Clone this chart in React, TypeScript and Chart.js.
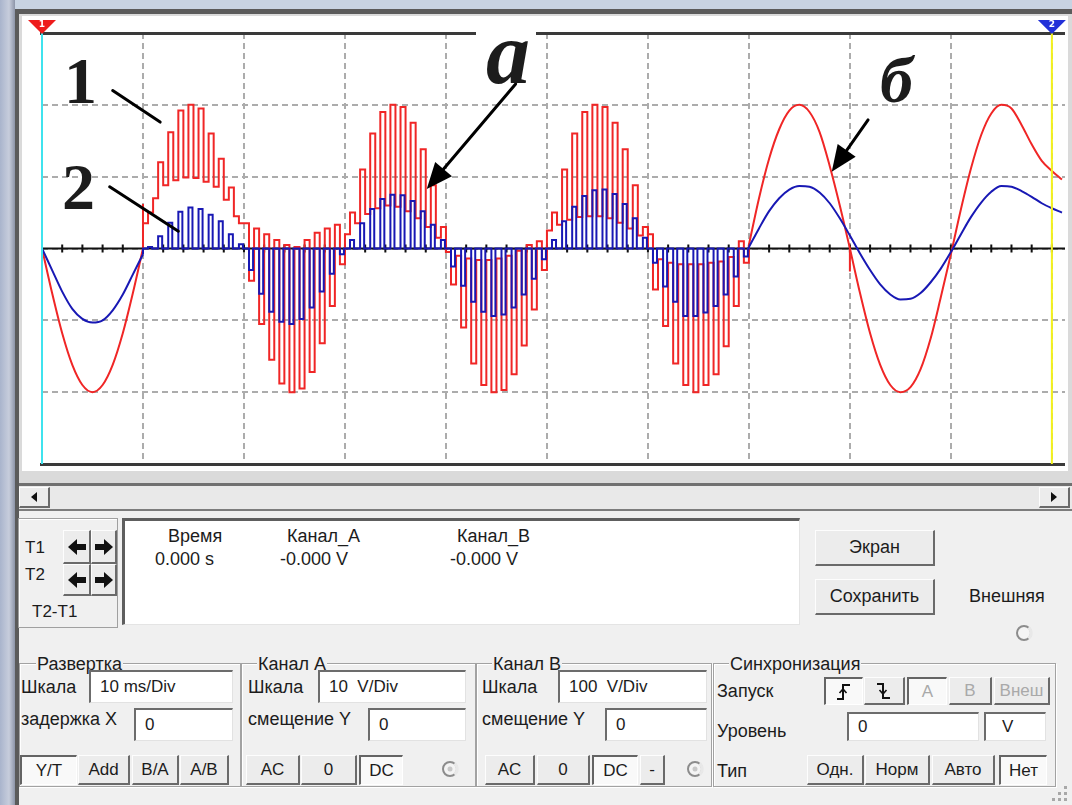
import React, { useEffect, useRef } from "react";
import { Chart, registerables } from "chart.js";

Chart.register(...registerables);

// ---------- scope scale (time in ms, 10 ms/div; level in divisions) ----------
const X_MIN = 0;
const X_MAX = 101.3;
const Y_MIN = -3;
const Y_MAX = 3;
const X_DIV = 10;
const Y_DIV = 1;
const AXIS_TICK_MS = 2;
const CURSOR_T1 = 0;
const CURSOR_T2 = 100;

// ---------- clean section at the start (0–10 ms) ----------
const startTimes = [0, 1, 2, 3, 4, 5, 6, 7, 8, 9, 10];
const startRed = [0, -0.62, -1.18, -1.62, -1.9, -2.0, -1.9, -1.62, -1.18, -0.62, 0];
const startBlue = [0, -0.3, -0.6, -0.84, -0.98, -1.03, -1.0, -0.86, -0.64, -0.36, -0.08];

// ---------- chopped section (10–70 ms), one value per 1 ms slot ----------
const segStarts = [10, 20, 30, 40, 50, 60];
const slotsPerSeg = 10;
const slotMs = 1;
const redPulseOn = 0.5;
const bluePulseOn = 0.5;
const bluePulseOff = 0.9;
const blueOffLevel = 0;

const redHi = [
  0.5, 1.2, 1.62, 1.92, 2.0, 1.95, 1.6, 1.25, 0.85, 0.35,
  -0.45, -1.05, -1.55, -1.88, -2.0, -1.95, -1.72, -1.32, -0.8, -0.22,
  0.5, 1.1, 1.6, 1.9, 2.0, 1.97, 1.75, 1.38, 0.88, 0.3,
  -0.5, -1.1, -1.6, -1.9, -2.0, -1.97, -1.75, -1.35, -0.85, -0.3,
  0.5, 1.1, 1.6, 1.9, 2.0, 1.97, 1.75, 1.38, 0.88, 0.3,
  -0.57, -1.08, -1.6, -1.9, -2.0, -1.9, -1.75, -1.36, -0.8, -0.2,
];
const redLo = [
  0.35, 0.7, 0.88, 0.95, 0.99, 0.98, 0.93, 0.86, 0.68, 0.45,
  0.35, 0.28, 0.2, 0.12, 0.05, 0.02, 0.12, 0.22, 0.28, 0.33,
  0.2, 0.35, 0.48, 0.56, 0.6, 0.58, 0.52, 0.42, 0.3, 0.15,
  -0.05, -0.1, -0.14, -0.16, -0.16, -0.14, -0.1, -0.03, 0.05, 0.1,
  0.25, 0.33, 0.4, 0.44, 0.45, 0.45, 0.42, 0.36, 0.28, 0.18,
  0.2, -0.15, -0.2, -0.22, -0.22, -0.22, -0.2, -0.18, -0.12, 0.1,
];
const blueHi = [
  0.02, 0.17, 0.36, 0.51, 0.57, 0.55, 0.47, 0.38, 0.2, 0.06,
  -0.3, -0.63, -0.88, -1.02, -1.05, -0.98, -0.82, -0.6, -0.35, -0.08,
  0.12, 0.35, 0.55, 0.69, 0.75, 0.74, 0.66, 0.52, 0.33, 0.12,
  -0.25, -0.52, -0.74, -0.88, -0.94, -0.92, -0.82, -0.64, -0.42, -0.15,
  0.12, 0.38, 0.58, 0.73, 0.81, 0.82, 0.76, 0.62, 0.42, 0.15,
  -0.2, -0.53, -0.74, -0.94, -0.94, -0.89, -0.8, -0.64, -0.39, -0.11,
];

// ---------- switching glitches on the red trace ----------
const redGlitchT = [10, 60, 80];
const redGlitchFrom = [0, 0, 0];
const redGlitchTo = [0.62, 0.3, -0.32];

// ---------- clean section at the end (70–101 ms) ----------
const endTimes = [70, 71, 72, 73, 74, 75, 76, 77, 78, 79, 80, 81, 82, 83, 84, 85, 86, 87, 88, 89, 90, 91, 92, 93, 94, 95, 96, 97, 98, 99, 100, 101];
const endRed = [0.05, 0.7, 1.25, 1.66, 1.92, 2.0, 1.9, 1.62, 1.15, 0.6, 0.0, -0.62, -1.18, -1.62, -1.9, -2.0, -1.93, -1.68, -1.25, -0.68, -0.08, 0.55, 1.12, 1.58, 1.88, 2.0, 1.95, 1.72, 1.45, 1.22, 1.08, 0.96];
const endBlue = [0.02, 0.28, 0.52, 0.7, 0.82, 0.87, 0.86, 0.78, 0.63, 0.42, 0.18, -0.07, -0.3, -0.5, -0.64, -0.71, -0.7, -0.62, -0.47, -0.28, -0.05, 0.2, 0.44, 0.64, 0.79, 0.87, 0.86, 0.8, 0.72, 0.63, 0.56, 0.5];

// ---------- annotations (data coordinates: ms, div) ----------
const pointerLines = [
  { from: [7.0, 2.2], to: [11.7, 1.76] },
  { from: [6.7, 0.86], to: [13.5, 0.24] },
];
const arrows = [
  { from: [46.9, 2.29], to: [38.1, 0.83] },
  { from: [81.8, 1.79], to: [78.2, 1.07] },
];

const RED = "#f02626";
const BLUE = "#1818b4";
const GRID = "#acacac";

type P = { x: number; y: number | null };

const zip = (ts: number[], vs: number[]): P[] => ts.map((t, i) => ({ x: t, y: vs[i] }));
const slotStart = (i: number) => segStarts[Math.floor(i / slotsPerSeg)] + (i % slotsPerSeg) * slotMs;

function redChopped(): P[] {
  const pts: P[] = [{ x: segStarts[0], y: startRed[startRed.length - 1] }];
  redHi.forEach((hi, i) => {
    const t0 = slotStart(i);
    pts.push({ x: t0, y: redLo[i] });
    pts.push({ x: t0 + redPulseOn, y: hi });
  });
  pts.push({ x: endTimes[0], y: endRed[0] });
  return pts;
}

function blueChopped(): P[] {
  const pts: P[] = [{ x: segStarts[0], y: startBlue[startBlue.length - 1] }];
  blueHi.forEach((hi, i) => {
    const t0 = slotStart(i);
    pts.push({ x: t0, y: blueOffLevel });
    pts.push({ x: t0 + bluePulseOn, y: hi });
    pts.push({ x: t0 + bluePulseOff, y: blueOffLevel });
  });
  pts.push({ x: endTimes[0], y: endBlue[0] });
  return pts;
}

function glitches(): P[] {
  const pts: P[] = [];
  redGlitchT.forEach((t, i) => {
    pts.push({ x: t, y: redGlitchFrom[i] });
    pts.push({ x: t, y: redGlitchTo[i] });
    pts.push({ x: t, y: null });
  });
  return pts;
}

function drawArrow(ctx: CanvasRenderingContext2D, x1: number, y1: number, x2: number, y2: number) {
  const ang = Math.atan2(y2 - y1, x2 - x1);
  const len = 26;
  const hw = 11;
  const bx = x2 - len * Math.cos(ang);
  const by = y2 - len * Math.sin(ang);
  ctx.beginPath();
  ctx.moveTo(x1, y1);
  ctx.lineTo(bx, by);
  ctx.stroke();
  ctx.beginPath();
  ctx.moveTo(x2, y2);
  ctx.lineTo(bx + hw * Math.sin(ang), by - hw * Math.cos(ang));
  ctx.lineTo(bx - hw * Math.sin(ang), by + hw * Math.cos(ang));
  ctx.closePath();
  ctx.fill();
}

const scopePlugin = {
  id: "scopeDecor",
  beforeDatasetsDraw(chart: any) {
    const { ctx, chartArea: a, scales } = chart;
    const x = scales.x;
    const y = scales.y;
    const y0 = y.getPixelForValue(0);
    ctx.save();
    ctx.strokeStyle = "#111";
    ctx.fillStyle = "#111";
    ctx.lineWidth = 2;
    ctx.beginPath();
    ctx.moveTo(a.left, y0);
    ctx.lineTo(a.right, y0);
    ctx.stroke();
    for (let t = X_MIN; t <= X_MAX; t += AXIS_TICK_MS) {
      const px = x.getPixelForValue(t);
      ctx.fillRect(px - 1, y0 - 4, 2, 8);
    }
    ctx.restore();
  },
  afterDatasetsDraw(chart: any) {
    const { ctx, chartArea: a, scales } = chart;
    const x = scales.x;
    const y = scales.y;
    ctx.save();
    // frame lines
    ctx.fillStyle = "#3a3a3a";
    ctx.fillRect(a.left - 2, a.top - 1, a.right - a.left + 2, 3);
    ctx.fillRect(a.left - 2, a.bottom - 1, a.right - a.left + 2, 3);
    // cursors
    const c1 = x.getPixelForValue(CURSOR_T1);
    const c2 = x.getPixelForValue(CURSOR_T2);
    ctx.fillStyle = "#3fe3ee";
    ctx.fillRect(c1 - 1, a.top, 2, a.bottom - a.top);
    ctx.fillStyle = "#f4f21c";
    ctx.fillRect(c2 - 1, a.top, 2, a.bottom - a.top);
    // cursor flags
    const flag = (cx: number, color: string, label: string) => {
      ctx.fillStyle = color;
      ctx.beginPath();
      ctx.moveTo(cx - 14, a.top - 13);
      ctx.lineTo(cx + 14, a.top - 13);
      ctx.lineTo(cx, a.top + 1);
      ctx.closePath();
      ctx.fill();
      ctx.fillStyle = "#fff";
      ctx.font = "bold 9px 'DejaVu Sans'";
      ctx.textAlign = "center";
      ctx.textBaseline = "middle";
      ctx.fillText(label, cx, a.top - 8);
    };
    flag(c1, "#ee1c1c", "1");
    flag(c2, "#2230d8", "2");
    // annotation lines
    ctx.strokeStyle = "#000";
    ctx.fillStyle = "#000";
    ctx.lineWidth = 3;
    ctx.lineCap = "round";
    pointerLines.forEach((l) => {
      ctx.beginPath();
      ctx.moveTo(x.getPixelForValue(l.from[0]), y.getPixelForValue(l.from[1]));
      ctx.lineTo(x.getPixelForValue(l.to[0]), y.getPixelForValue(l.to[1]));
      ctx.stroke();
    });
    arrows.forEach((l) => {
      drawArrow(
        ctx,
        x.getPixelForValue(l.from[0]),
        y.getPixelForValue(l.from[1]),
        x.getPixelForValue(l.to[0]),
        y.getPixelForValue(l.to[1])
      );
    });
    ctx.restore();
  },
};

function Scope() {
  const ref = useRef<HTMLCanvasElement>(null);
  useEffect(() => {
    const lineBase = { pointRadius: 0, borderWidth: 2, fill: false };
    const chart = new Chart(ref.current as HTMLCanvasElement, {
      type: "line",
      data: {
        datasets: [
          { ...lineBase, label: "B start", data: zip(startTimes, startBlue), borderColor: BLUE, cubicInterpolationMode: "monotone", order: 0 },
          { ...lineBase, label: "B chopped", data: blueChopped(), borderColor: BLUE, stepped: true, order: 0 },
          { ...lineBase, label: "B end", data: zip(endTimes, endBlue), borderColor: BLUE, cubicInterpolationMode: "monotone", order: 0 },
          { ...lineBase, label: "A start", data: zip(startTimes, startRed), borderColor: RED, cubicInterpolationMode: "monotone", order: 1 },
          { ...lineBase, label: "A chopped", data: redChopped(), borderColor: RED, stepped: true, order: 1 },
          { ...lineBase, label: "A end", data: zip(endTimes, endRed), borderColor: RED, cubicInterpolationMode: "monotone", order: 1 },
          { ...lineBase, label: "A glitch", data: glitches(), borderColor: RED, spanGaps: false, order: 1 },
        ] as any,
      },
      options: {
        animation: false,
        responsive: false,
        maintainAspectRatio: false,
        events: [],
        layout: { padding: { left: 19, top: 16, right: 2, bottom: 7 }, autoPadding: false },
        plugins: { legend: { display: false }, tooltip: { enabled: false }, title: { display: false } },
        scales: {
          x: {
            type: "linear",
            min: X_MIN,
            max: X_MAX,
            afterFit: (s: any) => { s.height = 0; },
            ticks: { display: false, stepSize: X_DIV, includeBounds: false },
            grid: { color: GRID, lineWidth: 2, drawTicks: false },
            border: { display: false, dash: [6, 4] },
          },
          y: {
            type: "linear",
            min: Y_MIN,
            max: Y_MAX,
            afterFit: (s: any) => { s.width = 0; },
            ticks: { display: false, stepSize: Y_DIV, includeBounds: false },
            grid: { color: GRID, lineWidth: 2, drawTicks: false },
            border: { display: false, dash: [6, 4] },
          },
        },
      } as any,
      plugins: [scopePlugin],
    });
    return () => chart.destroy();
  }, []);
  return (
    <canvas
      ref={ref}
      width={1044}
      height={454}
      style={{ position: "absolute", left: 23, top: 17, width: 1044, height: 454, background: "#fff" }}
    />
  );
}

// ---------- UI helpers ----------
const F = '"Liberation Sans", Arial, Helvetica, sans-serif';
const SERIF = '"Liberation Serif", "DejaVu Serif", serif';
const FS = 18;

const box = (x: number, y: number, w: number, h: number): React.CSSProperties => ({
  position: "absolute", left: x, top: y, width: w, height: h, boxSizing: "border-box",
});

function T({ x, b, children, size = FS, color = "#1c1c1c", bg, ratio = 0.8465, font = F, weight = 400, italic = false, pad = 0 }: any) {
  return (
    <div
      style={{
        position: "absolute", left: x, top: b - ratio * size, fontFamily: font, fontSize: size, lineHeight: 1,
        color, whiteSpace: "pre", background: bg, fontWeight: weight, fontStyle: italic ? "italic" : "normal",
        padding: pad ? `0 ${pad}px` : 0,
      }}
    >
      {children}
    </div>
  );
}

function Btn({ x, y, w, h, pressed = false, disabled = false, children, size = 17 }: any) {
  const b: React.CSSProperties = pressed
    ? { borderTop: "2px solid #646464", borderLeft: "2px solid #646464", borderBottom: "1px solid #fff", borderRight: "1px solid #fff", background: "#f9f9f9" }
    : { borderTop: "1px solid #fdfdfd", borderLeft: "1px solid #fdfdfd", borderBottom: "2px solid #6a6a6a", borderRight: "2px solid #6a6a6a", background: "#ececec" };
  return (
    <div style={{ ...box(x, y, w, h), ...b, display: "flex", alignItems: "center", justifyContent: "center", fontFamily: F, fontSize: size, color: disabled ? "#a9a9a9" : "#1c1c1c" }}>
      {children}
    </div>
  );
}

function Inp({ x, y, w, h, value, pad = 9 }: any) {
  return (
    <div style={{ ...box(x, y, w, h), background: "#fff", borderTop: "2px solid #6c6c6c", borderLeft: "2px solid #6c6c6c", borderBottom: "1px solid #e2e2e2", borderRight: "1px solid #e2e2e2", display: "flex", alignItems: "center", paddingLeft: pad, fontFamily: F, fontSize: 17, color: "#1c1c1c", whiteSpace: "pre" }}>
      {value}
    </div>
  );
}

function Group({ x, y, w, h, title, tx }: any) {
  return (
    <>
      <div style={{ ...box(x, y, w, h), border: "1px solid #a2a2a2", boxShadow: "inset 1px 1px 0 #fff, 1px 1px 0 #fff" }} />
      <T x={tx} b={y + 7} bg="#f0f0f0" pad={1}>{title}</T>
    </>
  );
}

function Radio({ cx, cy, dot = false }: any) {
  return (
    <svg style={{ position: "absolute", left: cx - 10, top: cy - 10 }} width={20} height={20}>
      <circle cx={10} cy={10} r={7} fill="#f4f4f4" stroke="#8c8c8c" strokeWidth={2} />
      <path d="M14.5 4.5 A7 7 0 0 1 14.5 15.5" stroke="#e8e8e8" strokeWidth={3} fill="none" />
      {dot && <circle cx={10} cy={10} r={2.5} fill="#c8c8c8" />}
    </svg>
  );
}

function ArrowIcon({ dir }: any) {
  const pts = dir === "l" ? "1,10 10,2 10,7 19,7 19,13 10,13 10,18" : "19,10 10,2 10,7 1,7 1,13 10,13 10,18";
  return (
    <svg width={20} height={20}>
      <polygon points={pts} fill="#111" />
    </svg>
  );
}

function EdgeIcon({ rising }: any) {
  const d = rising ? "M3 17 H9 V3 H16" : "M3 3 H9 V17 H16";
  const a = rising ? "M5.5 11 L9 7 L12.5 11" : "M5.5 9 L9 13 L12.5 9";
  return (
    <svg width={20} height={20}>
      <path d={d} stroke="#111" strokeWidth={2} fill="none" />
      <path d={a} stroke="#111" strokeWidth={1.6} fill="none" />
    </svg>
  );
}

function Tri({ dir }: any) {
  const pts = dir === "l" ? "0,5 6,0 6,10" : "6,5 0,0 0,10";
  return (
    <svg width={6} height={10}>
      <polygon points={pts} fill="#111" />
    </svg>
  );
}

export default function App() {
  return (
    <div style={{ position: "fixed", left: 0, top: 0, width: 1072, height: 805, overflow: "hidden", background: "#f0f0f0", fontFamily: F }}>
      {/* window chrome */}
      <div style={{ ...box(0, 0, 1072, 9), background: "#c8d3e2" }} />
      <div style={{ ...box(0, 0, 15, 805), background: "linear-gradient(90deg,#a9b4cc,#c7cddc 60%,#8d95a8)" }} />
      <div style={{ ...box(15, 9, 1057, 5), background: "#5b5b5b" }} />
      <div style={{ ...box(15, 9, 4, 796), background: "#5b5b5b" }} />
      <div style={{ ...box(19, 14, 1053, 469), background: "#dadada" }} />
      <div style={{ ...box(22, 16, 1046, 455), background: "#fff" }} />
      <div style={{ ...box(19, 483, 1053, 3), background: "#707070" }} />
      <div style={{ ...box(19, 486, 1053, 23), background: "#e9e9e9" }} />
      <div style={{ ...box(19, 509, 1053, 2), background: "#7c7c7c" }} />
      <Btn x={19} y={487} w={31} h={21}><Tri dir="l" /></Btn>
      <Btn x={1039} y={487} w={31} h={21}><Tri dir="r" /></Btn>

      <Scope />

      {/* annotation labels */}
      <div style={{ ...box(476, 28, 60, 10), background: "#fff" }} />
      <T x={64} b={103} size={66} font={SERIF} weight={700} ratio={0.8375}>1</T>
      <T x={62} b={209} size={66} font={SERIF} weight={700} ratio={0.8375}>2</T>
      <T x={486} b={84} size={88} font={SERIF} weight={700} italic ratio={0.8375}>а</T>
      <T x={880} b={102} size={66} font={SERIF} weight={700} italic ratio={0.8375}>б</T>

      {/* cursor controls */}
      <div style={{ ...box(18, 518, 100, 110), border: "1px solid #a0a0a0", boxShadow: "inset 1px 1px 0 #fff" }} />
      <T x={25} b={553} size={17}>T1</T>
      <T x={25} b={580} size={17}>T2</T>
      <T x={32} b={617} size={17}>T2-T1</T>
      <Btn x={63} y={530} w={28} h={34}><ArrowIcon dir="l" /></Btn>
      <Btn x={91} y={530} w={26} h={34}><ArrowIcon dir="r" /></Btn>
      <Btn x={63} y={564} w={28} h={32}><ArrowIcon dir="l" /></Btn>
      <Btn x={91} y={564} w={26} h={32}><ArrowIcon dir="r" /></Btn>

      {/* readout */}
      <div style={{ ...box(122, 518, 678, 107), background: "#fff", borderTop: "3px solid #5e5e5e", borderLeft: "3px solid #5e5e5e", borderBottom: "1px solid #e4e4e4", borderRight: "1px solid #e4e4e4" }} />
      <T x={168} b={542}>Время</T>
      <T x={155} b={565}>0.000 s</T>
      <T x={287} b={542}>Канал_А</T>
      <T x={280} b={565}>-0.000 V</T>
      <T x={457} b={542}>Канал_B</T>
      <T x={450} b={565}>-0.000 V</T>

      <Btn x={815} y={530} w={120} h={36} size={18}>Экран</Btn>
      <Btn x={815} y={579} w={120} h={36} size={18}>Сохранить</Btn>
      <T x={969} b={602}>Внешняя</T>
      <Radio cx={1024} cy={633} />

      {/* Развертка */}
      <Group x={19} y={663} w={222} h={124} title="Развертка" tx={36} />
      <T x={21} b={693}>Шкала</T>
      <Inp x={89} y={670} w={144} h={33} value="10 ms/Div" />
      <T x={21} b={725}>задержка X</T>
      <Inp x={134} y={708} w={99} h={33} value="0" />
      <Btn x={20} y={755} w={57} h={30} pressed>Y/T</Btn>
      <Btn x={78} y={755} w={52} h={30}>Add</Btn>
      <Btn x={132} y={755} w={47} h={30}>B/A</Btn>
      <Btn x={180} y={755} w={49} h={30}>A/B</Btn>

      {/* Канал А */}
      <Group x={241} y={663} w={235} h={124} title="Канал А" tx={257} />
      <T x={248} b={693}>Шкала</T>
      <Inp x={318} y={670} w={148} h={33} value="10  V/Div" />
      <T x={248} b={725}>смещение Y</T>
      <Inp x={368} y={708} w={98} h={33} value="0" />
      <Btn x={246} y={755} w={54} h={30}>AC</Btn>
      <Btn x={301} y={755} w={56} h={30}>0</Btn>
      <Btn x={359} y={755} w={44} h={30} pressed>DC</Btn>
      <Radio cx={450} cy={769} dot />

      {/* Канал В */}
      <Group x={476} y={663} w={236} h={124} title="Канал В" tx={492} />
      <T x={482} b={693}>Шкала</T>
      <Inp x={558} y={670} w={149} h={33} value="100  V/Div" />
      <T x={482} b={725}>смещение Y</T>
      <Inp x={605} y={708} w={102} h={33} value="0" />
      <Btn x={485} y={755} w={50} h={30}>AC</Btn>
      <Btn x={537} y={755} w={53} h={30}>0</Btn>
      <Btn x={592} y={755} w={46} h={30} pressed>DC</Btn>
      <Btn x={640} y={755} w={25} h={30}>-</Btn>
      <Radio cx={695} cy={769} dot />

      {/* Синхронизация */}
      <Group x={713} y={663} w={343} h={124} title="Синхронизация" tx={729} />
      <T x={717} b={697}>Запуск</T>
      <Btn x={824} y={677} w={39} h={28} pressed><EdgeIcon rising /></Btn>
      <Btn x={864} y={677} w={41} h={28}><EdgeIcon /></Btn>
      <Btn x={907} y={677} w={40} h={28} pressed disabled>A</Btn>
      <Btn x={949} y={677} w={43} h={28} disabled>B</Btn>
      <Btn x={994} y={677} w={56} h={28} disabled>Внеш</Btn>
      <T x={717} b={737}>Уровень</T>
      <Inp x={847} y={712} w={132} h={29} value="0" />
      <Inp x={984} y={712} w={62} h={29} value="V" pad={16} />
      <T x={717} b={777}>Тип</T>
      <Btn x={807} y={755} w={57} h={30}>Одн.</Btn>
      <Btn x={865} y={755} w={65} h={30}>Норм</Btn>
      <Btn x={932} y={755} w={63} h={30}>Авто</Btn>
      <Btn x={999} y={755} w={48} h={30} pressed>Нет</Btn>

      {/* resize grip */}
      {[[1064, 786], [1058, 792], [1064, 792], [1052, 798], [1058, 798], [1064, 798]].map(([gx, gy], i) => (
        <div key={i} style={{ ...box(gx, gy, 3, 3), background: "#a8a8a8" }} />
      ))}
    </div>
  );
}
